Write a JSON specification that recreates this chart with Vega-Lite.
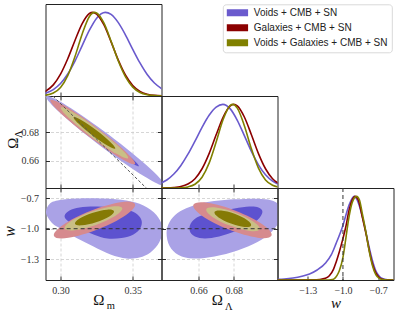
{
"$schema":"https://vega.github.io/schema/vega-lite/v6.json",
"padding":{"left":0.5,"top":3,"right":2,"bottom":2},
"columns":3,
"spacing":0,
"bounds":"flush",
"datasets":{
"ell":[
{"p":"ML","k":"a","i":0,"x":0.37635,"y":0.63912},{"p":"ML","k":"a","i":1,"x":0.36078,"y":0.64621},{"p":"ML","k":"a","i":2,"x":0.32777,"y":0.66945},{"p":"ML","k":"a","i":3,"x":0.29666,"y":0.69524},{"p":"ML","k":"a","i":4,"x":0.28565,"y":0.70848},{"p":"ML","k":"a","i":5,"x":0.30123,"y":0.7014},{"p":"ML","k":"a","i":6,"x":0.33423,"y":0.67815},{"p":"ML","k":"a","i":7,"x":0.36535,"y":0.65236},
{"p":"ML","k":"b","i":0,"x":0.35674,"y":0.65412},{"p":"ML","k":"b","i":1,"x":0.34815,"y":0.65848},{"p":"ML","k":"b","i":2,"x":0.32952,"y":0.67181},{"p":"ML","k":"b","i":3,"x":0.31176,"y":0.68631},{"p":"ML","k":"b","i":4,"x":0.30526,"y":0.69348},{"p":"ML","k":"b","i":5,"x":0.31385,"y":0.68912},{"p":"ML","k":"b","i":6,"x":0.33248,"y":0.67579},{"p":"ML","k":"b","i":7,"x":0.35024,"y":0.66129},
{"p":"ML","k":"c","i":0,"x":0.35478,"y":0.65517},{"p":"ML","k":"c","i":1,"x":0.34331,"y":0.6598},{"p":"ML","k":"c","i":2,"x":0.31953,"y":0.67627},{"p":"ML","k":"c","i":3,"x":0.29738,"y":0.69492},{"p":"ML","k":"c","i":4,"x":0.28982,"y":0.70483},{"p":"ML","k":"c","i":5,"x":0.30129,"y":0.7002},{"p":"ML","k":"c","i":6,"x":0.32507,"y":0.68373},{"p":"ML","k":"c","i":7,"x":0.34722,"y":0.66508},
{"p":"ML","k":"d","i":0,"x":0.34924,"y":0.65972},{"p":"ML","k":"d","i":1,"x":0.34007,"y":0.66329},{"p":"ML","k":"d","i":2,"x":0.32119,"y":0.67629},{"p":"ML","k":"d","i":3,"x":0.30367,"y":0.69111},{"p":"ML","k":"d","i":4,"x":0.29776,"y":0.69908},{"p":"ML","k":"d","i":5,"x":0.30694,"y":0.69551},{"p":"ML","k":"d","i":6,"x":0.32581,"y":0.68251},{"p":"ML","k":"d","i":7,"x":0.34333,"y":0.66769},
{"p":"ML","k":"e","i":0,"x":0.33943,"y":0.66722},{"p":"ML","k":"e","i":1,"x":0.33372,"y":0.66938},{"p":"ML","k":"e","i":2,"x":0.32202,"y":0.67741},{"p":"ML","k":"e","i":3,"x":0.31119,"y":0.68661},{"p":"ML","k":"e","i":4,"x":0.30757,"y":0.69158},{"p":"ML","k":"e","i":5,"x":0.31328,"y":0.68942},{"p":"ML","k":"e","i":6,"x":0.32498,"y":0.68139},{"p":"ML","k":"e","i":7,"x":0.33581,"y":0.67219},
{"p":"MW","k":"c","i":0,"x":0.35457,"y":-0.74129},{"p":"MW","k":"c","i":1,"x":0.34745,"y":-0.86381},{"p":"MW","k":"c","i":2,"x":0.32631,"y":-1.01599},{"p":"MW","k":"c","i":3,"x":0.30353,"y":-1.10867},{"p":"MW","k":"c","i":4,"x":0.29245,"y":-1.08763},{"p":"MW","k":"c","i":5,"x":0.29957,"y":-0.96511},{"p":"MW","k":"c","i":6,"x":0.32071,"y":-0.81293},{"p":"MW","k":"c","i":7,"x":0.34349,"y":-0.72025},
{"p":"MW","k":"d","i":0,"x":0.34487,"y":-0.78673},{"p":"MW","k":"d","i":1,"x":0.33968,"y":-0.87013},{"p":"MW","k":"d","i":2,"x":0.32461,"y":-0.96969},{"p":"MW","k":"d","i":3,"x":0.3085,"y":-1.02709},{"p":"MW","k":"d","i":4,"x":0.30077,"y":-1.00875},{"p":"MW","k":"d","i":5,"x":0.30596,"y":-0.92535},{"p":"MW","k":"d","i":6,"x":0.32103,"y":-0.82579},{"p":"MW","k":"d","i":7,"x":0.33714,"y":-0.76839},
{"p":"MW","k":"e","i":0,"x":0.33847,"y":-0.82085},{"p":"MW","k":"e","i":1,"x":0.33492,"y":-0.87773},{"p":"MW","k":"e","i":2,"x":0.3247,"y":-0.94172},{"p":"MW","k":"e","i":3,"x":0.31377,"y":-0.97533},{"p":"MW","k":"e","i":4,"x":0.30855,"y":-0.95889},{"p":"MW","k":"e","i":5,"x":0.3121,"y":-0.90201},{"p":"MW","k":"e","i":6,"x":0.32232,"y":-0.83802},{"p":"MW","k":"e","i":7,"x":0.33325,"y":-0.80441},
{"p":"LW","k":"c","i":0,"x":0.70383,"y":-1.08359},{"p":"LW","k":"c","i":1,"x":0.69501,"y":-1.10639},{"p":"LW","k":"c","i":2,"x":0.67697,"y":-1.01795},{"p":"LW","k":"c","i":3,"x":0.66027,"y":-0.87001},{"p":"LW","k":"c","i":4,"x":0.65469,"y":-0.74925},{"p":"LW","k":"c","i":5,"x":0.66351,"y":-0.72645},{"p":"LW","k":"c","i":6,"x":0.68155,"y":-0.81489},{"p":"LW","k":"c","i":7,"x":0.69825,"y":-0.96283},
{"p":"LW","k":"d","i":0,"x":0.69633,"y":-1.0164},{"p":"LW","k":"d","i":1,"x":0.69032,"y":-1.03507},{"p":"LW","k":"d","i":2,"x":0.67801,"y":-0.97907},{"p":"LW","k":"d","i":3,"x":0.6666,"y":-0.88118},{"p":"LW","k":"d","i":4,"x":0.66277,"y":-0.79874},{"p":"LW","k":"d","i":5,"x":0.66878,"y":-0.78007},{"p":"LW","k":"d","i":6,"x":0.68109,"y":-0.83607},{"p":"LW","k":"d","i":7,"x":0.6925,"y":-0.93396},
{"p":"LW","k":"e","i":0,"x":0.69094,"y":-0.97441},{"p":"LW","k":"e","i":1,"x":0.68678,"y":-0.99077},{"p":"LW","k":"e","i":2,"x":0.67831,"y":-0.95495},{"p":"LW","k":"e","i":3,"x":0.6705,"y":-0.88791},{"p":"LW","k":"e","i":4,"x":0.66792,"y":-0.82893},{"p":"LW","k":"e","i":5,"x":0.67208,"y":-0.81257},{"p":"LW","k":"e","i":6,"x":0.68055,"y":-0.84839},{"p":"LW","k":"e","i":7,"x":0.68836,"y":-0.91543}
],
"blob":[
{"p":"MW","k":"a","i":0,"x":0.28997,"y":-0.8456},{"p":"MW","k":"a","i":1,"x":0.29239,"y":-0.7571},{"p":"MW","k":"a","i":2,"x":0.29793,"y":-0.7227},{"p":"MW","k":"a","i":3,"x":0.31107,"y":-0.703},{"p":"MW","k":"a","i":4,"x":0.32974,"y":-0.703},{"p":"MW","k":"a","i":5,"x":0.34564,"y":-0.7227},{"p":"MW","k":"a","i":6,"x":0.3574,"y":-0.7719},{"p":"MW","k":"a","i":7,"x":0.36639,"y":-0.8653},{"p":"MW","k":"a","i":8,"x":0.37054,"y":-0.9931},{"p":"MW","k":"a","i":9,"x":0.36846,"y":-1.1308},{"p":"MW","k":"a","i":10,"x":0.36224,"y":-1.234},{"p":"MW","k":"a","i":11,"x":0.35463,"y":-1.2832},{"p":"MW","k":"a","i":12,"x":0.34564,"y":-1.293},{"p":"MW","k":"a","i":13,"x":0.33458,"y":-1.2537},{"p":"MW","k":"a","i":14,"x":0.32282,"y":-1.175},{"p":"MW","k":"a","i":15,"x":0.31107,"y":-1.0914},{"p":"MW","k":"a","i":16,"x":0.3,"y":-0.998},{"p":"MW","k":"a","i":17,"x":0.29447,"y":-0.9489},
{"p":"MW","k":"b","i":0,"x":0.30277,"y":-0.8751},{"p":"MW","k":"b","i":1,"x":0.30622,"y":-0.821},{"p":"MW","k":"b","i":2,"x":0.31314,"y":-0.7915},{"p":"MW","k":"b","i":3,"x":0.32351,"y":-0.7817},{"p":"MW","k":"b","i":4,"x":0.33389,"y":-0.7866},{"p":"MW","k":"b","i":5,"x":0.34426,"y":-0.8063},{"p":"MW","k":"b","i":6,"x":0.35187,"y":-0.8456},{"p":"MW","k":"b","i":7,"x":0.35602,"y":-0.9145},{"p":"MW","k":"b","i":8,"x":0.35533,"y":-0.9931},{"p":"MW","k":"b","i":9,"x":0.35048,"y":-1.057},{"p":"MW","k":"b","i":10,"x":0.34219,"y":-1.0914},{"p":"MW","k":"b","i":11,"x":0.3325,"y":-1.0964},{"p":"MW","k":"b","i":12,"x":0.32282,"y":-1.057},{"p":"MW","k":"b","i":13,"x":0.31314,"y":-0.9931},{"p":"MW","k":"b","i":14,"x":0.30553,"y":-0.9292},
{"p":"LW","k":"a","i":0,"x":0.64187,"y":-1.0423},{"p":"LW","k":"a","i":1,"x":0.64357,"y":-0.9341},{"p":"LW","k":"a","i":2,"x":0.6481,"y":-0.8456},{"p":"LW","k":"a","i":3,"x":0.6549,"y":-0.7866},{"p":"LW","k":"a","i":4,"x":0.6634,"y":-0.7424},{"p":"LW","k":"a","i":5,"x":0.67473,"y":-0.7178},{"p":"LW","k":"a","i":6,"x":0.68606,"y":-0.708},{"p":"LW","k":"a","i":7,"x":0.69569,"y":-0.708},{"p":"LW","k":"a","i":8,"x":0.70249,"y":-0.7276},{"p":"LW","k":"a","i":9,"x":0.70646,"y":-0.7866},{"p":"LW","k":"a","i":10,"x":0.70646,"y":-0.9046},{"p":"LW","k":"a","i":11,"x":0.70136,"y":-1.0324},{"p":"LW","k":"a","i":12,"x":0.69343,"y":-1.1308},{"p":"LW","k":"a","i":13,"x":0.6821,"y":-1.2144},{"p":"LW","k":"a","i":14,"x":0.66907,"y":-1.2734},{"p":"LW","k":"a","i":15,"x":0.65717,"y":-1.293},{"p":"LW","k":"a","i":16,"x":0.64867,"y":-1.2586},{"p":"LW","k":"a","i":17,"x":0.64357,"y":-1.1701},
{"p":"LW","k":"b","i":0,"x":0.6549,"y":-0.9833},{"p":"LW","k":"b","i":1,"x":0.65717,"y":-0.9145},{"p":"LW","k":"b","i":2,"x":0.6617,"y":-0.8702},{"p":"LW","k":"b","i":3,"x":0.6702,"y":-0.8309},{"p":"LW","k":"b","i":4,"x":0.6804,"y":-0.8014},{"p":"LW","k":"b","i":5,"x":0.6889,"y":-0.7817},{"p":"LW","k":"b","i":6,"x":0.694,"y":-0.7915},{"p":"LW","k":"b","i":7,"x":0.69626,"y":-0.8358},{"p":"LW","k":"b","i":8,"x":0.69343,"y":-0.9145},{"p":"LW","k":"b","i":9,"x":0.68606,"y":-0.9882},{"p":"LW","k":"b","i":10,"x":0.67643,"y":-1.0521},{"p":"LW","k":"b","i":11,"x":0.66737,"y":-1.0914},{"p":"LW","k":"b","i":12,"x":0.66057,"y":-1.0914},{"p":"LW","k":"b","i":13,"x":0.65603,"y":-1.0521}
],
"d1":[
{"p":"m","s":"Voids + CMB + SN","x":0.289,"y":0.03},{"p":"m","s":"Voids + CMB + SN","x":0.295,"y":0.077},{"p":"m","s":"Voids + CMB + SN","x":0.3,"y":0.149},{"p":"m","s":"Voids + CMB + SN","x":0.305,"y":0.263},{"p":"m","s":"Voids + CMB + SN","x":0.31,"y":0.418},{"p":"m","s":"Voids + CMB + SN","x":0.315,"y":0.603},{"p":"m","s":"Voids + CMB + SN","x":0.32,"y":0.787},{"p":"m","s":"Voids + CMB + SN","x":0.325,"y":0.931},{"p":"m","s":"Voids + CMB + SN","x":0.331,"y":1.0},{"p":"m","s":"Voids + CMB + SN","x":0.335,"y":0.975},{"p":"m","s":"Voids + CMB + SN","x":0.34,"y":0.877},{"p":"m","s":"Voids + CMB + SN","x":0.345,"y":0.729},{"p":"m","s":"Voids + CMB + SN","x":0.35,"y":0.558},{"p":"m","s":"Voids + CMB + SN","x":0.355,"y":0.395},{"p":"m","s":"Voids + CMB + SN","x":0.36,"y":0.257},{"p":"m","s":"Voids + CMB + SN","x":0.365,"y":0.155},{"p":"m","s":"Voids + CMB + SN","x":0.371,"y":0.076},
{"p":"m","s":"Galaxies + CMB + SN","x":0.289,"y":0.05},{"p":"m","s":"Galaxies + CMB + SN","x":0.295,"y":0.133},{"p":"m","s":"Galaxies + CMB + SN","x":0.3,"y":0.261},{"p":"m","s":"Galaxies + CMB + SN","x":0.305,"y":0.445},{"p":"m","s":"Galaxies + CMB + SN","x":0.31,"y":0.664},{"p":"m","s":"Galaxies + CMB + SN","x":0.315,"y":0.866},{"p":"m","s":"Galaxies + CMB + SN","x":0.32,"y":0.986},{"p":"m","s":"Galaxies + CMB + SN","x":0.3223,"y":1.0},{"p":"m","s":"Galaxies + CMB + SN","x":0.325,"y":0.98},{"p":"m","s":"Galaxies + CMB + SN","x":0.33,"y":0.852},{"p":"m","s":"Galaxies + CMB + SN","x":0.335,"y":0.647},{"p":"m","s":"Galaxies + CMB + SN","x":0.34,"y":0.429},{"p":"m","s":"Galaxies + CMB + SN","x":0.345,"y":0.248},{"p":"m","s":"Galaxies + CMB + SN","x":0.35,"y":0.126},{"p":"m","s":"Galaxies + CMB + SN","x":0.355,"y":0.056},{"p":"m","s":"Galaxies + CMB + SN","x":0.36,"y":0.022},{"p":"m","s":"Galaxies + CMB + SN","x":0.365,"y":0.007},{"p":"m","s":"Galaxies + CMB + SN","x":0.371,"y":0.002},
{"p":"m","s":"Voids + Galaxies + CMB + SN","x":0.289,"y":0.007},{"p":"m","s":"Voids + Galaxies + CMB + SN","x":0.295,"y":0.035},{"p":"m","s":"Voids + Galaxies + CMB + SN","x":0.3,"y":0.102},{"p":"m","s":"Voids + Galaxies + CMB + SN","x":0.305,"y":0.243},{"p":"m","s":"Voids + Galaxies + CMB + SN","x":0.31,"y":0.471},{"p":"m","s":"Voids + Galaxies + CMB + SN","x":0.315,"y":0.742},{"p":"m","s":"Voids + Galaxies + CMB + SN","x":0.32,"y":0.951},{"p":"m","s":"Voids + Galaxies + CMB + SN","x":0.3235,"y":1.0},{"p":"m","s":"Voids + Galaxies + CMB + SN","x":0.325,"y":0.993},{"p":"m","s":"Voids + Galaxies + CMB + SN","x":0.33,"y":0.873},{"p":"m","s":"Voids + Galaxies + CMB + SN","x":0.335,"y":0.655},{"p":"m","s":"Voids + Galaxies + CMB + SN","x":0.34,"y":0.418},{"p":"m","s":"Voids + Galaxies + CMB + SN","x":0.345,"y":0.228},{"p":"m","s":"Voids + Galaxies + CMB + SN","x":0.35,"y":0.106},{"p":"m","s":"Voids + Galaxies + CMB + SN","x":0.355,"y":0.042},{"p":"m","s":"Voids + Galaxies + CMB + SN","x":0.36,"y":0.014},{"p":"m","s":"Voids + Galaxies + CMB + SN","x":0.365,"y":0.004},{"p":"m","s":"Voids + Galaxies + CMB + SN","x":0.371,"y":0.001},
{"p":"L","s":"Voids + CMB + SN","x":0.638,"y":0.052},{"p":"L","s":"Voids + CMB + SN","x":0.642,"y":0.096},{"p":"L","s":"Voids + CMB + SN","x":0.646,"y":0.167},{"p":"L","s":"Voids + CMB + SN","x":0.65,"y":0.27},{"p":"L","s":"Voids + CMB + SN","x":0.654,"y":0.404},{"p":"L","s":"Voids + CMB + SN","x":0.658,"y":0.561},{"p":"L","s":"Voids + CMB + SN","x":0.662,"y":0.725},{"p":"L","s":"Voids + CMB + SN","x":0.666,"y":0.869},{"p":"L","s":"Voids + CMB + SN","x":0.67,"y":0.967},{"p":"L","s":"Voids + CMB + SN","x":0.6738,"y":1.0},{"p":"L","s":"Voids + CMB + SN","x":0.678,"y":0.946},{"p":"L","s":"Voids + CMB + SN","x":0.682,"y":0.809},{"p":"L","s":"Voids + CMB + SN","x":0.686,"y":0.626},{"p":"L","s":"Voids + CMB + SN","x":0.69,"y":0.437},{"p":"L","s":"Voids + CMB + SN","x":0.694,"y":0.277},{"p":"L","s":"Voids + CMB + SN","x":0.698,"y":0.158},{"p":"L","s":"Voids + CMB + SN","x":0.702,"y":0.082},{"p":"L","s":"Voids + CMB + SN","x":0.706,"y":0.038},
{"p":"L","s":"Galaxies + CMB + SN","x":0.638,"y":0.0003},{"p":"L","s":"Galaxies + CMB + SN","x":0.642,"y":0.001},{"p":"L","s":"Galaxies + CMB + SN","x":0.646,"y":0.005},{"p":"L","s":"Galaxies + CMB + SN","x":0.65,"y":0.017},{"p":"L","s":"Galaxies + CMB + SN","x":0.654,"y":0.047},{"p":"L","s":"Galaxies + CMB + SN","x":0.658,"y":0.111},{"p":"L","s":"Galaxies + CMB + SN","x":0.662,"y":0.23},{"p":"L","s":"Galaxies + CMB + SN","x":0.666,"y":0.411},{"p":"L","s":"Galaxies + CMB + SN","x":0.67,"y":0.636},{"p":"L","s":"Galaxies + CMB + SN","x":0.674,"y":0.849},{"p":"L","s":"Galaxies + CMB + SN","x":0.678,"y":0.982},{"p":"L","s":"Galaxies + CMB + SN","x":0.68,"y":1.0},{"p":"L","s":"Galaxies + CMB + SN","x":0.682,"y":0.982},{"p":"L","s":"Galaxies + CMB + SN","x":0.686,"y":0.849},{"p":"L","s":"Galaxies + CMB + SN","x":0.69,"y":0.636},{"p":"L","s":"Galaxies + CMB + SN","x":0.694,"y":0.411},{"p":"L","s":"Galaxies + CMB + SN","x":0.698,"y":0.23},{"p":"L","s":"Galaxies + CMB + SN","x":0.702,"y":0.111},{"p":"L","s":"Galaxies + CMB + SN","x":0.706,"y":0.047},
{"p":"L","s":"Voids + Galaxies + CMB + SN","x":0.638,"y":0.0},{"p":"L","s":"Voids + Galaxies + CMB + SN","x":0.646,"y":0.0005},{"p":"L","s":"Voids + Galaxies + CMB + SN","x":0.65,"y":0.003},{"p":"L","s":"Voids + Galaxies + CMB + SN","x":0.654,"y":0.013},{"p":"L","s":"Voids + Galaxies + CMB + SN","x":0.658,"y":0.045},{"p":"L","s":"Voids + Galaxies + CMB + SN","x":0.662,"y":0.129},{"p":"L","s":"Voids + Galaxies + CMB + SN","x":0.666,"y":0.297},{"p":"L","s":"Voids + Galaxies + CMB + SN","x":0.67,"y":0.55},{"p":"L","s":"Voids + Galaxies + CMB + SN","x":0.674,"y":0.821},{"p":"L","s":"Voids + Galaxies + CMB + SN","x":0.678,"y":0.987},{"p":"L","s":"Voids + Galaxies + CMB + SN","x":0.6794,"y":1.0},{"p":"L","s":"Voids + Galaxies + CMB + SN","x":0.682,"y":0.955},{"p":"L","s":"Voids + Galaxies + CMB + SN","x":0.686,"y":0.745},{"p":"L","s":"Voids + Galaxies + CMB + SN","x":0.69,"y":0.468},{"p":"L","s":"Voids + Galaxies + CMB + SN","x":0.694,"y":0.237},{"p":"L","s":"Voids + Galaxies + CMB + SN","x":0.698,"y":0.096},{"p":"L","s":"Voids + Galaxies + CMB + SN","x":0.702,"y":0.032},{"p":"L","s":"Voids + Galaxies + CMB + SN","x":0.706,"y":0.008},
{"p":"w","s":"Voids + CMB + SN","x":-1.56,"y":0.008},{"p":"w","s":"Voids + CMB + SN","x":-1.5,"y":0.012},{"p":"w","s":"Voids + CMB + SN","x":-1.425,"y":0.024},{"p":"w","s":"Voids + CMB + SN","x":-1.35,"y":0.045},{"p":"w","s":"Voids + CMB + SN","x":-1.285,"y":0.073},{"p":"w","s":"Voids + CMB + SN","x":-1.22,"y":0.12},{"p":"w","s":"Voids + CMB + SN","x":-1.144,"y":0.21},{"p":"w","s":"Voids + CMB + SN","x":-1.1,"y":0.3},{"p":"w","s":"Voids + CMB + SN","x":-1.059,"y":0.435},{"p":"w","s":"Voids + CMB + SN","x":-1.003,"y":0.64},{"p":"w","s":"Voids + CMB + SN","x":-0.947,"y":0.9},{"p":"w","s":"Voids + CMB + SN","x":-0.915,"y":0.99},{"p":"w","s":"Voids + CMB + SN","x":-0.902,"y":1.0},{"p":"w","s":"Voids + CMB + SN","x":-0.88,"y":0.96},{"p":"w","s":"Voids + CMB + SN","x":-0.833,"y":0.75},{"p":"w","s":"Voids + CMB + SN","x":-0.778,"y":0.4},{"p":"w","s":"Voids + CMB + SN","x":-0.75,"y":0.24},{"p":"w","s":"Voids + CMB + SN","x":-0.72,"y":0.11},{"p":"w","s":"Voids + CMB + SN","x":-0.69,"y":0.045},{"p":"w","s":"Voids + CMB + SN","x":-0.664,"y":0.018},{"p":"w","s":"Voids + CMB + SN","x":-0.62,"y":0.003},{"p":"w","s":"Voids + CMB + SN","x":-0.565,"y":0.0},
{"p":"w","s":"Galaxies + CMB + SN","x":-1.56,"y":0.0},{"p":"w","s":"Galaxies + CMB + SN","x":-1.25,"y":0.002},{"p":"w","s":"Galaxies + CMB + SN","x":-1.2,"y":0.006},{"p":"w","s":"Galaxies + CMB + SN","x":-1.15,"y":0.02},{"p":"w","s":"Galaxies + CMB + SN","x":-1.116,"y":0.05},{"p":"w","s":"Galaxies + CMB + SN","x":-1.08,"y":0.13},{"p":"w","s":"Galaxies + CMB + SN","x":-1.059,"y":0.21},{"p":"w","s":"Galaxies + CMB + SN","x":-1.03,"y":0.34},{"p":"w","s":"Galaxies + CMB + SN","x":-1.003,"y":0.48},{"p":"w","s":"Galaxies + CMB + SN","x":-0.975,"y":0.64},{"p":"w","s":"Galaxies + CMB + SN","x":-0.947,"y":0.84},{"p":"w","s":"Galaxies + CMB + SN","x":-0.92,"y":0.96},{"p":"w","s":"Galaxies + CMB + SN","x":-0.896,"y":1.0},{"p":"w","s":"Galaxies + CMB + SN","x":-0.87,"y":0.96},{"p":"w","s":"Galaxies + CMB + SN","x":-0.833,"y":0.74},{"p":"w","s":"Galaxies + CMB + SN","x":-0.8,"y":0.53},{"p":"w","s":"Galaxies + CMB + SN","x":-0.778,"y":0.37},{"p":"w","s":"Galaxies + CMB + SN","x":-0.75,"y":0.2},{"p":"w","s":"Galaxies + CMB + SN","x":-0.72,"y":0.085},{"p":"w","s":"Galaxies + CMB + SN","x":-0.69,"y":0.03},{"p":"w","s":"Galaxies + CMB + SN","x":-0.664,"y":0.01},{"p":"w","s":"Galaxies + CMB + SN","x":-0.62,"y":0.001},{"p":"w","s":"Galaxies + CMB + SN","x":-0.565,"y":0.0},
{"p":"w","s":"Voids + Galaxies + CMB + SN","x":-1.56,"y":0.0},{"p":"w","s":"Voids + Galaxies + CMB + SN","x":-1.12,"y":0.0},{"p":"w","s":"Voids + Galaxies + CMB + SN","x":-1.09,"y":0.005},{"p":"w","s":"Voids + Galaxies + CMB + SN","x":-1.07,"y":0.02},{"p":"w","s":"Voids + Galaxies + CMB + SN","x":-1.05,"y":0.055},{"p":"w","s":"Voids + Galaxies + CMB + SN","x":-1.031,"y":0.11},{"p":"w","s":"Voids + Galaxies + CMB + SN","x":-1.0,"y":0.27},{"p":"w","s":"Voids + Galaxies + CMB + SN","x":-0.975,"y":0.5},{"p":"w","s":"Voids + Galaxies + CMB + SN","x":-0.95,"y":0.74},{"p":"w","s":"Voids + Galaxies + CMB + SN","x":-0.92,"y":0.93},{"p":"w","s":"Voids + Galaxies + CMB + SN","x":-0.884,"y":1.0},{"p":"w","s":"Voids + Galaxies + CMB + SN","x":-0.86,"y":0.96},{"p":"w","s":"Voids + Galaxies + CMB + SN","x":-0.833,"y":0.78},{"p":"w","s":"Voids + Galaxies + CMB + SN","x":-0.8,"y":0.54},{"p":"w","s":"Voids + Galaxies + CMB + SN","x":-0.778,"y":0.36},{"p":"w","s":"Voids + Galaxies + CMB + SN","x":-0.75,"y":0.18},{"p":"w","s":"Voids + Galaxies + CMB + SN","x":-0.72,"y":0.065},{"p":"w","s":"Voids + Galaxies + CMB + SN","x":-0.69,"y":0.02},{"p":"w","s":"Voids + Galaxies + CMB + SN","x":-0.664,"y":0.005},{"p":"w","s":"Voids + Galaxies + CMB + SN","x":-0.62,"y":0.0},{"p":"w","s":"Voids + Galaxies + CMB + SN","x":-0.565,"y":0.0}
]
},
"concat":[
{"width":116,"height":92,"data":{"name":"d1"},"transform":[{"filter":"datum.p=='m'"}],
 "mark":{"type":"line","clip":true,"interpolate":"monotone","strokeWidth":1.6},
 "encoding":{
  "x":{"field":"x","type":"quantitative","scale":{"domain":[0.2896,0.3699],"nice":false,"zero":false},"axis":{"values":[0.3,0.35],"labels":false,"title":null}},
  "y":{"field":"y","type":"quantitative","scale":{"domain":[0,1.1],"nice":false},"axis":null},
  "color":{"field":"s","type":"nominal","scale":{"domain":["Voids + CMB + SN","Galaxies + CMB + SN","Voids + Galaxies + CMB + SN"],"range":["#6a5acd","#8b0000","#808000"]},
   "legend":{"title":null,"orient":"none","legendX":177.3,"legendY":0.3,"symbolType":"stroke","symbolSize":510,"symbolStrokeWidth":7,"symbolOffset":-5,"clipHeight":9,"rowPadding":4,"padding":4,"labelFont":"Liberation Sans","labelFontSize":10,"labelColor":"#222","labelOffset":2,"labelLimit":300,"strokeColor":"#d9d9d9","fillColor":"#ffffff","cornerRadius":3,"encode":{"symbols":{"update":{"strokeWidth":{"value":7}}}}}}
 }},
{"width":116,"height":92,"data":{"values":[{}]},"mark":{"type":"point","opacity":0},"view":{"stroke":null}},
{"width":116,"height":92,"data":{"values":[{}]},"mark":{"type":"point","opacity":0},"view":{"stroke":null}},
{"width":116,"height":92,
 "layer":[
  {"data":{"name":"ell"},"transform":[{"filter":"datum.p=='ML' && (datum.k=='a' || datum.k=='b')"}],
   "mark":{"type":"line","interpolate":"basis-closed","strokeWidth":0,"clip":true},
   "encoding":{
    "x":{"field":"x","type":"quantitative","scale":{"domain":[0.2896,0.3699],"nice":false,"zero":false},"axis":{"values":[0.3,0.35],"labels":false,"grid":true,"title":null}},
    "y":{"field":"y","type":"quantitative","scale":{"domain":[0.6407,0.7053],"nice":false,"zero":false},"axis":{"values":[0.66,0.68],"format":".2f","grid":true,"title":"Ω","titleFontSize":15,"titleAngle":270,"titleX":-27.7,"titleY":46.7,"titleAlign":"center","titleBaseline":"alphabetic"}},
    "fill":{"field":"k","type":"nominal","scale":{"domain":["a","b","c","d","e"],"range":["#aaa2e6","#5d52cf","#d68a8e","#c9bf85","#857a05"]},"legend":null},
    "order":{"field":"i","type":"quantitative"}
   }},
  {"data":{"name":"ell"},"transform":[{"filter":"datum.p=='ML' && datum.k!='a' && datum.k!='b'"}],
   "mark":{"type":"line","interpolate":"basis-closed","strokeWidth":0,"clip":true},
   "encoding":{
    "x":{"field":"x","type":"quantitative","scale":{"domain":[0.2896,0.3699],"nice":false,"zero":false},"axis":{"orient":"top","values":[0.3,0.35],"labels":false,"grid":false,"title":null}},
    "y":{"field":"y","type":"quantitative","scale":{"domain":[0.6407,0.7053],"nice":false,"zero":false},"axis":{"orient":"right","values":[0.66,0.68],"labels":false,"grid":false,"title":null}},
    "fill":{"field":"k","type":"nominal","scale":{"domain":["a","b","c","d","e"],"range":["#aaa2e6","#5d52cf","#d68a8e","#c9bf85","#857a05"]},"legend":null},
    "order":{"field":"i","type":"quantitative"}
   }},
  {"data":{"values":[{"x":0.28,"y":0.72},{"x":0.38,"y":0.62}]},
   "mark":{"type":"line","color":"#555555","strokeDash":[3,2],"strokeWidth":1,"clip":true},
   "encoding":{
    "x":{"field":"x","type":"quantitative","scale":{"domain":[0.2896,0.3699],"nice":false,"zero":false},"axis":null},
    "y":{"field":"y","type":"quantitative","scale":{"domain":[0.6407,0.7053],"nice":false,"zero":false},"axis":{"orient":"left","labels":false,"ticks":false,"grid":false,"title":"Λ","titleFontSize":10.5,"titleAngle":270,"titleX":-24.5,"titleY":37.7,"titleAlign":"center","titleBaseline":"alphabetic"}}
   }}
 ],
 "resolve":{"axis":{"x":"independent","y":"independent"}}},
{"width":116,"height":92,"data":{"name":"d1"},"transform":[{"filter":"datum.p=='L'"}],
 "mark":{"type":"line","clip":true,"interpolate":"monotone","strokeWidth":1.6},
 "encoding":{
  "x":{"field":"x","type":"quantitative","scale":{"domain":[0.639,0.7048],"nice":false,"zero":false},"axis":{"values":[0.66,0.68],"labels":false,"title":null}},
  "y":{"field":"y","type":"quantitative","scale":{"domain":[0,1.1],"nice":false},"axis":null},
  "color":{"field":"s","type":"nominal","scale":{"domain":["Voids + CMB + SN","Galaxies + CMB + SN","Voids + Galaxies + CMB + SN"],"range":["#6a5acd","#8b0000","#808000"]},
   "legend":{"title":null,"orient":"none","legendX":177.3,"legendY":0.3,"symbolType":"stroke","symbolSize":510,"symbolStrokeWidth":7,"symbolOffset":-5,"clipHeight":9,"rowPadding":4,"padding":4,"labelFont":"Liberation Sans","labelFontSize":10,"labelColor":"#222","labelOffset":2,"labelLimit":300,"strokeColor":"#d9d9d9","fillColor":"#ffffff","cornerRadius":3,"encode":{"symbols":{"update":{"strokeWidth":{"value":7}}}}}}
 }},
{"width":116,"height":92,"data":{"values":[{}]},"mark":{"type":"point","opacity":0},"view":{"stroke":null}},
{"width":116,"height":92,
 "layer":[
  {"data":{"name":"blob"},"transform":[{"filter":"datum.p=='MW'"}],
   "mark":{"type":"line","interpolate":"cardinal-closed","strokeWidth":0,"clip":true},
   "encoding":{
    "x":{"field":"x","type":"quantitative","scale":{"domain":[0.2896,0.3699],"nice":false,"zero":false},"axis":{"values":[0.3,0.35],"format":".2f","grid":true,"labelPadding":9.5,"title":"Ω","titleFontSize":15,"titleAlign":"left","titleBaseline":"alphabetic","titleX":47.3,"titleY":24.3}},
    "y":{"field":"y","type":"quantitative","scale":{"domain":[-1.504,-0.6],"nice":false,"zero":false},"axis":{"values":[-0.7,-1.0,-1.3],"format":".1f","grid":true,"title":"w","titleFontStyle":"italic","titleFontSize":16,"titleAngle":270,"titleX":-31,"titleY":43,"titleAlign":"center","titleBaseline":"alphabetic"}},
    "fill":{"field":"k","type":"nominal","scale":{"domain":["a","b","c","d","e"],"range":["#aaa2e6","#5d52cf","#d68a8e","#c9bf85","#857a05"]},"legend":null},
    "order":{"field":"i","type":"quantitative"}
   }},
  {"data":{"name":"ell"},"transform":[{"filter":"datum.p=='MW'"}],
   "mark":{"type":"line","interpolate":"basis-closed","strokeWidth":0,"clip":true},
   "encoding":{
    "x":{"field":"x","type":"quantitative","scale":{"domain":[0.2896,0.3699],"nice":false,"zero":false},"axis":{"orient":"top","values":[0.3,0.35],"labels":false,"grid":false,"title":null}},
    "y":{"field":"y","type":"quantitative","scale":{"domain":[-1.504,-0.6],"nice":false,"zero":false},"axis":null},
    "fill":{"field":"k","type":"nominal","scale":{"domain":["a","b","c","d","e"],"range":["#aaa2e6","#5d52cf","#d68a8e","#c9bf85","#857a05"]},"legend":null},
    "order":{"field":"i","type":"quantitative"}
   }},
  {"data":{"values":[{"x":0.28,"y":-1.0},{"x":0.38,"y":-1.0}]},
   "mark":{"type":"line","color":"#333333","strokeDash":[4,3],"strokeWidth":1,"clip":true},
   "encoding":{
    "x":{"field":"x","type":"quantitative","scale":{"domain":[0.2896,0.3699],"nice":false,"zero":false},"axis":{"orient":"bottom","labels":false,"ticks":false,"grid":false,"title":"m","titleFontSize":10.5,"titleAlign":"left","titleBaseline":"alphabetic","titleX":60.7,"titleY":28.7}},
    "y":{"field":"y","type":"quantitative","scale":{"domain":[-1.504,-0.6],"nice":false,"zero":false},"axis":{"orient":"right","values":[-0.7,-1.0,-1.3],"labels":false,"grid":false,"title":null}}
   }}
 ],
 "resolve":{"axis":{"x":"independent","y":"independent"}}},
{"width":116,"height":92,
 "layer":[
  {"data":{"name":"blob"},"transform":[{"filter":"datum.p=='LW'"}],
   "mark":{"type":"line","interpolate":"cardinal-closed","strokeWidth":0,"clip":true},
   "encoding":{
    "x":{"field":"x","type":"quantitative","scale":{"domain":[0.639,0.7048],"nice":false,"zero":false},"axis":{"values":[0.66,0.68],"format":".2f","grid":true,"labelPadding":9.5,"title":"Ω","titleFontSize":15,"titleAlign":"left","titleBaseline":"alphabetic","titleX":49.7,"titleY":24.3}},
    "y":{"field":"y","type":"quantitative","scale":{"domain":[-1.504,-0.6],"nice":false,"zero":false},"axis":{"values":[-0.7,-1.0,-1.3],"labels":false,"grid":true,"title":null}},
    "fill":{"field":"k","type":"nominal","scale":{"domain":["a","b","c","d","e"],"range":["#aaa2e6","#5d52cf","#d68a8e","#c9bf85","#857a05"]},"legend":null},
    "order":{"field":"i","type":"quantitative"}
   }},
  {"data":{"name":"ell"},"transform":[{"filter":"datum.p=='LW'"}],
   "mark":{"type":"line","interpolate":"basis-closed","strokeWidth":0,"clip":true},
   "encoding":{
    "x":{"field":"x","type":"quantitative","scale":{"domain":[0.639,0.7048],"nice":false,"zero":false},"axis":{"orient":"top","values":[0.66,0.68],"labels":false,"grid":false,"title":null}},
    "y":{"field":"y","type":"quantitative","scale":{"domain":[-1.504,-0.6],"nice":false,"zero":false},"axis":null},
    "fill":{"field":"k","type":"nominal","scale":{"domain":["a","b","c","d","e"],"range":["#aaa2e6","#5d52cf","#d68a8e","#c9bf85","#857a05"]},"legend":null},
    "order":{"field":"i","type":"quantitative"}
   }},
  {"data":{"values":[{"x":0.63,"y":-1.0},{"x":0.71,"y":-1.0}]},
   "mark":{"type":"line","color":"#333333","strokeDash":[4,3],"strokeWidth":1,"clip":true},
   "encoding":{
    "x":{"field":"x","type":"quantitative","scale":{"domain":[0.639,0.7048],"nice":false,"zero":false},"axis":{"orient":"bottom","labels":false,"ticks":false,"grid":false,"title":"Λ","titleFontSize":10.5,"titleAlign":"left","titleBaseline":"alphabetic","titleX":63,"titleY":29}},
    "y":{"field":"y","type":"quantitative","scale":{"domain":[-1.504,-0.6],"nice":false,"zero":false},"axis":{"orient":"right","values":[-0.7,-1.0,-1.3],"labels":false,"grid":false,"title":null}}
   }}
 ],
 "resolve":{"axis":{"x":"independent","y":"independent"}}},
{"width":116,"height":92,
 "layer":[
  {"data":{"name":"d1"},"transform":[{"filter":"datum.p=='w'"}],
   "mark":{"type":"line","clip":true,"interpolate":"monotone","strokeWidth":1.6},
   "encoding":{
    "x":{"field":"x","type":"quantitative","scale":{"domain":[-1.558,-0.569],"nice":false,"zero":false},"axis":{"values":[-1.3,-1.0,-0.7],"format":".1f","labelPadding":9.5,"title":"w","titleFontStyle":"italic","titleFontSize":15,"titleBaseline":"alphabetic","titleY":27}},
    "y":{"field":"y","type":"quantitative","scale":{"domain":[0,1.1],"nice":false},"axis":null},
    "color":{"field":"s","type":"nominal","scale":{"domain":["Voids + CMB + SN","Galaxies + CMB + SN","Voids + Galaxies + CMB + SN"],"range":["#6a5acd","#8b0000","#808000"]},
     "legend":{"title":null,"orient":"none","legendX":177.3,"legendY":0.3,"symbolType":"stroke","symbolSize":510,"symbolStrokeWidth":7,"symbolOffset":-5,"clipHeight":9,"rowPadding":4,"padding":4,"labelFont":"Liberation Sans","labelFontSize":10,"labelColor":"#222","labelOffset":2,"labelLimit":300,"strokeColor":"#d9d9d9","fillColor":"#ffffff","cornerRadius":3,"encode":{"symbols":{"update":{"strokeWidth":{"value":7}}}}}}
   }},
  {"data":{"values":[{}]},
   "mark":{"type":"rule","color":"#333333","strokeDash":[4,3],"strokeWidth":1},
   "encoding":{"x":{"datum":-1.0}}}
 ]}
],
"config":{
 "view":{"stroke":"#222222","strokeWidth":1},
 "axis":{"domain":false,"grid":false,"ticks":true,"tickSize":-4,"tickColor":"#000000","tickWidth":0.8,"labelFont":"Liberation Serif","labelFontSize":10,"labelColor":"#333333","labelPadding":11,"labelOverlap":false,"labelFlush":false,"titleFont":"Liberation Serif","titleFontWeight":"normal","titleColor":"#111111","gridColor":"#cccccc","gridDash":[3,2],"gridWidth":0.8}
}
}
